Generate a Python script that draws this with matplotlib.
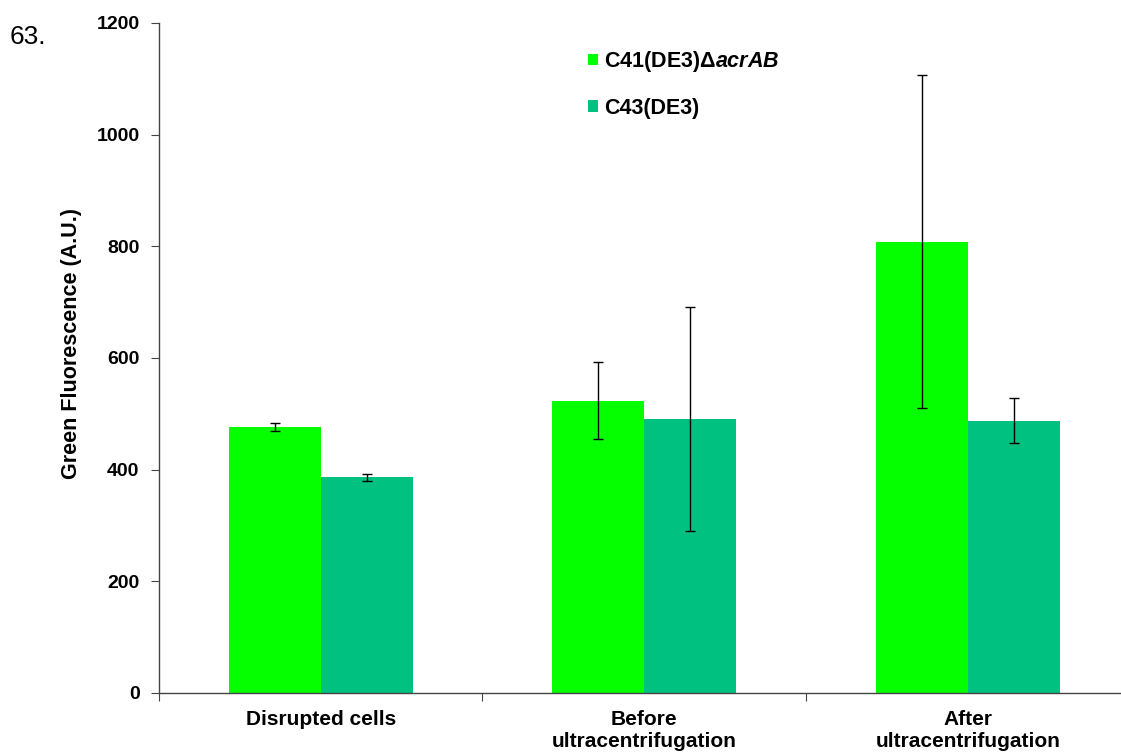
import numpy as np
import matplotlib
matplotlib.use("Agg")
import matplotlib.pyplot as plt
from matplotlib.patches import Patch

plt.rcParams['font.family'] = ['Liberation Sans', 'DejaVu Sans']
plt.rcParams['mathtext.fontset'] = 'custom'
plt.rcParams['mathtext.rm'] = 'Liberation Sans:bold'
plt.rcParams['mathtext.it'] = 'Liberation Sans:bold:italic'
plt.rcParams['mathtext.bf'] = 'Liberation Sans:bold'

# datos
categorias = ["Disrupted cells", "Before\nultracentrifugation", "After\nultracentrifugation"]
c41 = [476, 523, 808]
c41_err = [7, 69, 298]
c43 = [386, 491, 488]
c43_err = [6, 201, 41]
series = ["C41(DE3)$\\it{Δ acrAB}$", "C43(DE3)"]
colores = ["#05FF00", "#00C17F"]

fig = plt.figure(figsize=(11.21, 7.53), dpi=100)
ax = fig.add_axes([0.1418, 0.0797, 0.8658, 0.8898])

x = np.arange(len(categorias)) + 0.5
w = 0.285

ax.bar(x - w / 2, c41, w, color=colores[0], yerr=c41_err, capsize=3.5,
       error_kw=dict(ecolor='black', elinewidth=1, capthick=1))
ax.bar(x + w / 2, c43, w, color=colores[1], yerr=c43_err, capsize=3.5,
       error_kw=dict(ecolor='black', elinewidth=1, capthick=1))

ax.set_xlim(0, len(categorias))
ax.set_ylim(0, 1200)
ax.set_yticks(np.arange(0, 1201, 200))
ax.set_xticks(np.arange(0, len(categorias) + 1))
ax.set_xticklabels([])
ax.set_xticks(x, minor=True)
ax.set_xticklabels(categorias, minor=True, fontsize=15, fontweight='bold',
                   linespacing=1.2)
ax.tick_params(axis='x', which='minor', length=0, pad=12)
ax.tick_params(axis='x', which='major', length=6, direction='out', color='#444444')
ax.tick_params(axis='y', length=6, direction='out', color='#444444', pad=8,
               labelsize=14)
for t in ax.get_yticklabels():
    t.set_fontweight('bold')

for s in ['top', 'right']:
    ax.spines[s].set_visible(False)
for s in ['left', 'bottom']:
    ax.spines[s].set_color('#444444')
    ax.spines[s].set_linewidth(1)

ax.set_ylabel("Green Fluorescence (A.U.)", fontsize=15.5, fontweight='bold')
ax.yaxis.set_label_coords(-0.079, 0.521)

handles = [Patch(facecolor=c, edgecolor='none') for c in colores]
leg = ax.legend(handles, series, loc='upper left', bbox_to_anchor=(0.422, 0.99),
                frameon=False, handlelength=0.45, handleheight=0.45, handletextpad=0.3,
                labelspacing=1.1, prop=dict(size=15.5, weight='bold'))

fig.text(0.009, 0.942, "63.", fontsize=19)

fig.savefig("out.png", dpi=100)
